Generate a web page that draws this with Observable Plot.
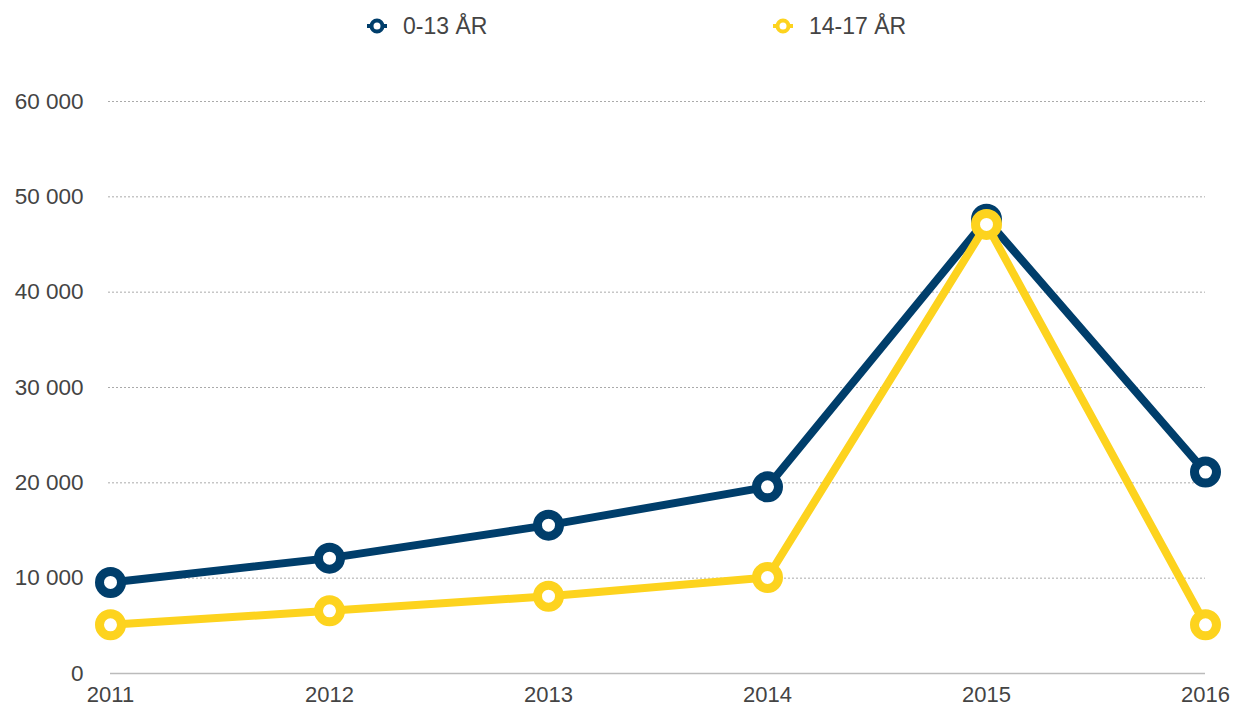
<!DOCTYPE html>
<html><head><meta charset="utf-8">
<script src="https://cdn.jsdelivr.net/npm/d3@7"></script>
<script src="https://cdn.jsdelivr.net/npm/@observablehq/plot@0.6"></script>
<style>
body{margin:0;background:#fff;font-family:"Liberation Sans",Arial,Helvetica,sans-serif;overflow:hidden;}
#legend{position:relative;height:50px;width:1234px;}
.li{position:absolute;top:12px;height:28px;display:flex;align-items:center;font-size:23px;color:#444;}
.li svg{margin-right:16px;}
</style></head>
<body>
<div id="legend"></div>
<div id="chart"></div>
<script>
const years = [2011, 2012, 2013, 2014, 2015, 2016];
const series = ["0-13 ÅR", "14-17 ÅR"];
const colors = ["#003e6b", "#fdd31e"];
const values0_13 = [9550, 12100, 15560, 19580, 47640, 21130];
const values14_17 = [5110, 6570, 8110, 10070, 47110, 5110];
const yTicks = [0, 10000, 20000, 30000, 40000, 50000, 60000];

const data = [];
years.forEach((y, i) => {
  data.push({year: y, value: values0_13[i], s: series[0]});
  data.push({year: y, value: values14_17[i], s: series[1]});
});

const legend = document.getElementById("legend");
const legendX = [367, 773];
series.forEach((s, i) => {
  const d = document.createElement("div");
  d.className = "li";
  d.style.left = legendX[i] + "px";
  d.innerHTML = `<svg width="20" height="20"><line x1="0" x2="20" y1="10" y2="10" stroke="${colors[i]}" stroke-width="4"/><circle cx="10" cy="10" r="5.5" fill="#fff" stroke="${colors[i]}" stroke-width="4"/></svg>${s}`;
  legend.appendChild(d);
});

const fmt = d => d3.format(",")(d).replace(/,/g, " ");

const chart = Plot.plot({
  width: 1234,
  height: 658,
  marginLeft: 110,
  marginRight: 29,
  marginTop: 51,
  marginBottom: 35,
  style: {fontFamily: '"Liberation Sans", Arial, Helvetica, sans-serif', fontSize: "22px", color: "#444", background: "#fff", overflow: "visible"},
  x: {domain: [2011, 2016], ticks: years, tickFormat: d => String(d), label: null},
  y: {domain: [0, 60000], ticks: yTicks, tickFormat: fmt, label: null},
  color: {domain: series, range: colors},
  marks: [
    Plot.ruleY(yTicks.filter(d => d > 0), {stroke: "#aaa", strokeDasharray: "2,2", strokeWidth: 1, insetLeft: -2}),
    Plot.ruleY([0], {stroke: "#bbb", strokeWidth: 1.5}),
    Plot.axisY({ticks: yTicks, tickFormat: fmt, tickSize: 0, tickPadding: 27, fontSize: 22.5, fill: "#444"}),
    Plot.axisX({ticks: years, tickFormat: d => String(d), tickSize: 0, tickPadding: 13, fontSize: 22, fill: "#444"}),
    Plot.line(data, {x: "year", y: "value", z: "s", stroke: "s", strokeWidth: 8, strokeLinejoin: "round"}),
    Plot.dot(data, {x: "year", y: "value", stroke: "s", r: 11, strokeWidth: 9, fill: "#fff"})
  ]
});
document.getElementById("chart").appendChild(chart);
</script>
</body></html>
